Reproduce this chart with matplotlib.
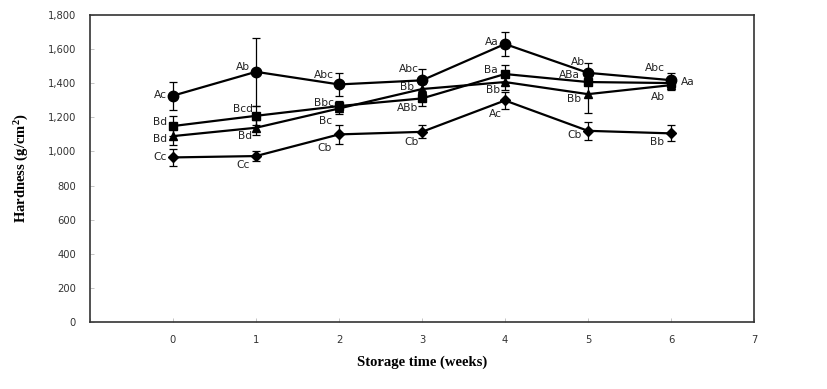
import matplotlib
matplotlib.use("Agg")
import matplotlib.pyplot as plt
from matplotlib.ticker import FuncFormatter

plt.rcParams["mathtext.fontset"] = "custom"
plt.rcParams["mathtext.rm"] = "Liberation Serif:bold"
plt.rcParams["mathtext.default"] = "rm"

weeks = [0, 1, 2, 3, 4, 5, 6]

circle_vals = [1327, 1467, 1393, 1417, 1630, 1461, 1418]
circle_err = [83, 200, 65, 68, 70, 55, 40]
circle_lbl = ["Ac", "Ab", "Abc", "Abc", "Aa", "Ab", "Abc"]

square_vals = [1149, 1209, 1266, 1311, 1454, 1407, 1401]
square_err = [58, 55, 30, 45, 55, 20, 20]
square_lbl = ["Bd", "Bcd", "Bbc", "ABb", "Ba", "ABa", "Aa"]

tri_vals = [1090, 1139, 1252, 1366, 1407, 1336, 1389]
tri_err = [50, 45, 35, 30, 45, 110, 30]
tri_lbl = ["Bd", "Bd", "Bc", "Bb", "Bb", "Bb", "Ab"]

dia_vals = [965, 973, 1100, 1115, 1299, 1121, 1106]
dia_err = [50, 30, 56, 38, 50, 52, 47]
dia_lbl = ["Cc", "Cc", "Cb", "Cb", "Ac", "Cb", "Bb"]

# label offsets in pixels (dx to text edge, dy up)
circle_off = [(-6, 1), (-6, 5), (-5, 9), (-3, 11), (-6, 2), (-3, 11), (-6, 12)]
square_off = [(-6, 4), (-3, 7), (-5, 3), (-4, -10), (-7, 4), (-8, 7), (10, 1)]
tri_off = [(-6, -3), (-4, -8), (-7, -13), (-8, 2), (-5, -8), (-7, -5), (-6, -12)]
dia_off = [(-6, 0), (-6, -9), (-7, -14), (-3, -10), (-3, -14), (-6, -4), (-7, -9)]

fig = plt.figure(figsize=(8.27, 3.89), dpi=100)
ax = fig.add_axes([0.1088, 0.1722, 0.9117 - 0.1088, 0.9614 - 0.1722])

series = [
    (circle_vals, circle_err, circle_lbl, circle_off, "o", 7.5),
    (square_vals, square_err, square_lbl, square_off, "s", 6),
    (tri_vals, tri_err, tri_lbl, tri_off, "^", 6),
    (dia_vals, dia_err, dia_lbl, dia_off, "D", 5),
]

for vals, errs, lbls, offs, mk, ms in series:
    ax.errorbar(weeks, vals, yerr=errs, color="black", marker=mk, markersize=ms,
                linewidth=1.6, elinewidth=0.9, capsize=3, capthick=0.9, zorder=3)
    for x, v, t, (dx, dy) in zip(weeks, vals, lbls, offs):
        ha = "right" if dx < 0 else "left"
        ax.annotate(t, (x, v), xytext=(dx * 0.72, dy * 0.72), textcoords="offset points",
                    ha=ha, va="center", fontsize=7.7, color="#222222",
                    family="DejaVu Sans")

ax.set_xlim(-1, 7)
ax.set_ylim(0, 1800)
ax.set_xticks([-1, 0, 1, 2, 3, 4, 5, 6, 7])
ax.set_xticklabels(["", "0", "1", "2", "3", "4", "5", "6", "7"])
ax.set_yticks(range(0, 1801, 200))
ax.yaxis.set_major_formatter(FuncFormatter(lambda v, p: f"{int(v):,}"))
ax.tick_params(direction="in", length=3, width=0.6, color="#bbbbbb",
               labelsize=7.2, labelcolor="#333333")
ax.tick_params(axis="x", pad=9)
ax.tick_params(axis="y", pad=10)
for s in ax.spines.values():
    s.set_color("#333333")
    s.set_linewidth(1.2)

ax.set_ylabel("Hardness (g/cm$^2$)", family="Liberation Serif", fontweight="bold",
              fontsize=10.5, labelpad=12)
ax.set_xlabel("Storage time (weeks)", family="Liberation Serif", fontweight="bold",
              fontsize=10.5, labelpad=8)

fig.savefig("out.png", dpi=100)
